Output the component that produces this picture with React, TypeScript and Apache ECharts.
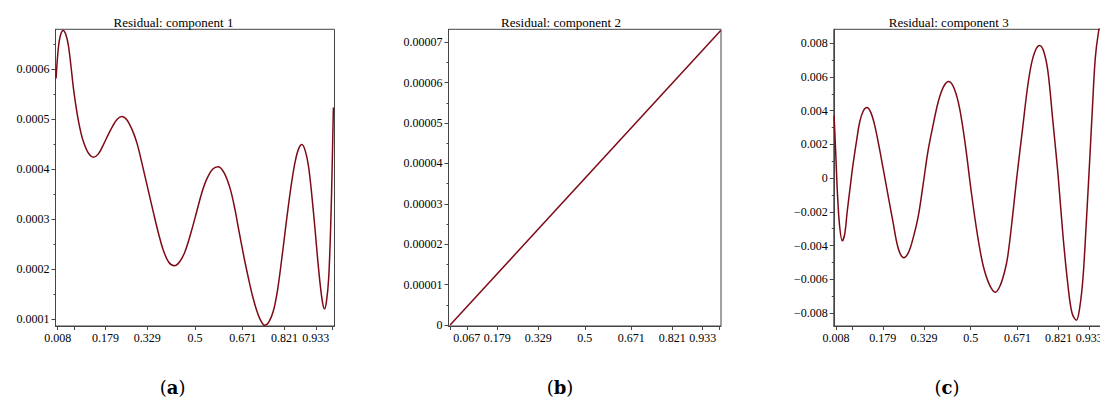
import React, { useEffect, useRef } from "react";
import * as echarts from "echarts";

// ---- tick positions / labels ----
const xTickValues = [0.008, 0.067, 0.179, 0.329, 0.5, 0.671, 0.821, 0.933, 0.992];
const xLabelsAC = [0.008, 0.179, 0.329, 0.5, 0.671, 0.821, 0.933];
const xLabelsB = [0.067, 0.179, 0.329, 0.5, 0.671, 0.821, 0.933];

const yTicksA = [0.0001, 0.0002, 0.0003, 0.0004, 0.0005, 0.0006];
const yMinorA = [0.00015, 0.00025, 0.00035, 0.00045, 0.00055, 0.00065];
const yTicksB = [0, 0.00001, 0.00002, 0.00003, 0.00004, 0.00005, 0.00006, 0.00007];
const yMinorB = [0.000005, 0.000015, 0.000025, 0.000035, 0.000045, 0.000055, 0.000065];
const yTicksC = [-0.008, -0.006, -0.004, -0.002, 0, 0.002, 0.004, 0.006, 0.008];
const yMinorC = [-0.007, -0.005, -0.003, -0.001, 0.001, 0.003, 0.005, 0.007];

const titles = ["Residual: component 1", "Residual: component 2", "Residual: component 3"];
const captions = ["a", "b", "c"];

// ---- series values ----
const xA = [0.002, 0.01, 0.018, 0.028, 0.037, 0.046, 0.055, 0.064, 0.073, 0.082, 0.091, 0.1, 0.118, 0.136, 0.153, 0.171, 0.189, 0.207, 0.222, 0.237, 0.252, 0.265, 0.279, 0.292, 0.303, 0.321, 0.336, 0.351, 0.369, 0.387, 0.406, 0.426, 0.445, 0.464, 0.485, 0.506, 0.524, 0.542, 0.563, 0.584, 0.605, 0.626, 0.643, 0.659, 0.676, 0.692, 0.707, 0.722, 0.736, 0.749, 0.765, 0.781, 0.796, 0.811, 0.823, 0.835, 0.847, 0.859, 0.871, 0.883, 0.895, 0.907, 0.919, 0.931, 0.94, 0.949, 0.957, 0.964, 0.971, 0.979, 0.986, 0.991, 0.996];
const residualA = [0.000581, 0.000641, 0.000668, 0.000677, 0.000669, 0.000648, 0.000608, 0.000563, 0.000527, 0.000497, 0.000473, 0.000455, 0.000432, 0.000424, 0.00043, 0.000448, 0.000469, 0.000488, 0.0005, 0.000505, 0.000501, 0.00049, 0.000473, 0.000452, 0.000428, 0.000385, 0.000349, 0.000313, 0.000272, 0.000237, 0.000214, 0.000207, 0.000215, 0.000235, 0.000272, 0.000315, 0.000352, 0.00038, 0.0004, 0.000405, 0.000392, 0.000361, 0.00032, 0.000272, 0.000223, 0.000181, 0.000145, 0.000116, 0.000097, 0.000088, 0.000095, 0.000117, 0.000159, 0.000221, 0.000275, 0.000328, 0.000376, 0.000415, 0.00044, 0.000449, 0.000437, 0.000405, 0.000346, 0.000275, 0.000218, 0.000168, 0.000134, 0.000121, 0.000135, 0.000181, 0.00028, 0.000388, 0.000523];

const xB = [0.006, 0.999];
const residualB = [0, 0.0000729];

const xC = [0.001, 0.007, 0.013, 0.021, 0.031, 0.04, 0.049, 0.06, 0.07, 0.083, 0.095, 0.108, 0.121, 0.135, 0.149, 0.165, 0.18, 0.198, 0.216, 0.236, 0.256, 0.273, 0.289, 0.308, 0.326, 0.344, 0.362, 0.381, 0.4, 0.42, 0.44, 0.46, 0.481, 0.502, 0.524, 0.545, 0.568, 0.59, 0.607, 0.624, 0.636, 0.654, 0.668, 0.691, 0.706, 0.721, 0.737, 0.752, 0.767, 0.782, 0.8, 0.819, 0.837, 0.855, 0.87, 0.886, 0.898, 0.91, 0.922, 0.935, 0.945, 0.955, 0.967, 0.978];
const residualC = [0.00372, 0.0015, -0.0008, -0.0028, -0.00372, -0.0033, -0.00198, -0.0005, 0.00079, 0.0022, 0.00336, 0.004, 0.00419, 0.0039, 0.00316, 0.0019, 0.00059, -0.001, -0.00258, -0.0042, -0.00472, -0.0044, -0.0036, -0.0023, -0.0004, 0.0016, 0.0031, 0.0045, 0.0054, 0.00573, 0.0053, 0.0041, 0.0019, -0.0008, -0.0033, -0.00515, -0.0063, -0.00677, -0.0064, -0.00554, -0.00456, -0.0021, 0, 0.00315, 0.0052, 0.00672, 0.0076, 0.00787, 0.0075, 0.00633, 0.0034, 0.0002, -0.0034, -0.00633, -0.008, -0.00843, -0.0077, -0.00594, -0.0027, 0.00119, 0.0043, 0.00712, 0.0087, 0.0095];

const LINE = "#7d0a14";
const AXIS = "#444";
const FONT = "Liberation Serif";

const panels = [
  { left: 55.5, width: 279, yMin: 0.0000866, yMax: 0.0006794, ticks: yTicksA, minor: yMinorA, xLabels: xLabelsAC, xs: xA, ys: residualA, titleX: 173.5, capX: 172.7 },
  { left: 448.5, width: 272.5, yMin: -0.00000025, yMax: 0.0000732, ticks: yTicksB, minor: yMinorB, xLabels: xLabelsB, xs: xB, ys: residualB, titleX: 561, capX: 560 },
  { left: 833.8, width: 273.8, yMin: -0.00877, yMax: 0.00883, ticks: yTicksC, minor: yMinorC, xLabels: xLabelsAC, xs: xC, ys: residualC, titleX: 948.7, capX: 947 },
];

const fmt = (v: number) => (v === 0 ? "0" : String(v).replace("-", "\u2212"));

export default function App() {
  const ref = useRef<HTMLDivElement>(null);
  useEffect(() => {
    if (!ref.current) return;
    const chart = echarts.init(ref.current, null, { renderer: "svg" });
    const grid: any[] = [];
    const xAxis: any[] = [];
    const yAxis: any[] = [];
    const series: any[] = [];
    const graphic: any[] = [];
    panels.forEach((p, i) => {
      grid.push({
        left: p.left, top: 29.3, width: p.width, height: 296.7,
        show: true, borderColor: AXIS, borderWidth: 1, backgroundColor: "transparent",
        containLabel: false, outerBoundsMode: "none",
      });
      xAxis.push({
        type: "value", gridIndex: i, min: 0, max: 1,
        axisLine: { show: true, onZero: false, lineStyle: { color: AXIS, width: 1 } },
        axisTick: { show: true, customValues: xTickValues, length: 4, lineStyle: { color: AXIS } },
        axisLabel: { customValues: p.xLabels, formatter: (v: number) => String(v), margin: 6, color: "#000", fontFamily: FONT, fontSize: 12 },
        splitLine: { show: false },
      });
      yAxis.push({
        type: "value", gridIndex: i, min: p.yMin, max: p.yMax,
        axisLine: { show: true, onZero: false, lineStyle: { color: AXIS, width: 1 } },
        axisTick: { show: true, customValues: p.ticks, length: 4, lineStyle: { color: AXIS } },
        axisLabel: { customValues: p.ticks, formatter: fmt, margin: 6, color: "#000", fontFamily: FONT, fontSize: 12 },
        splitLine: { show: false },
      });
      yAxis.push({
        type: "value", gridIndex: i, min: p.yMin, max: p.yMax, position: "left",
        axisLine: { show: false, onZero: false },
        axisTick: { show: true, customValues: p.minor, length: 2, lineStyle: { color: AXIS } },
        axisLabel: { show: false },
        splitLine: { show: false },
      });
      series.push({
        type: "line", xAxisIndex: i, yAxisIndex: i * 2,
        data: p.xs.map((x, k) => [x, p.ys[k]]),
        showSymbol: false, smooth: 0.35, clip: true,
        lineStyle: { color: LINE, width: 1.5 },
      });
      graphic.push({
        type: "text", x: p.titleX, y: 22,
        style: { text: titles[i], font: `13px "${FONT}"`, fill: "#000", align: "center", verticalAlign: "middle", textAlign: "center", textVerticalAlign: "middle" },
      });
      graphic.push({
        type: "text", x: p.capX, y: 387,
        style: {
          text: `{p|(}{b|${captions[i]}}{p|)}`,
          align: "center", verticalAlign: "middle", textAlign: "center", textVerticalAlign: "middle",
          rich: {
            p: { fontFamily: "DejaVu Serif", fontSize: 18, fill: "#000", color: "#000" },
            b: { fontFamily: "DejaVu Serif", fontSize: 18, fontWeight: "bold", fill: "#000", color: "#000" },
          },
        },
      });
    });
    chart.setOption({ animation: false, backgroundColor: "#fff", grid, xAxis, yAxis, series, graphic });
    return () => chart.dispose();
  }, []);
  return <div ref={ref} style={{ position: "absolute", left: 0, top: 0, width: 1100, height: 398 }} />;
}
